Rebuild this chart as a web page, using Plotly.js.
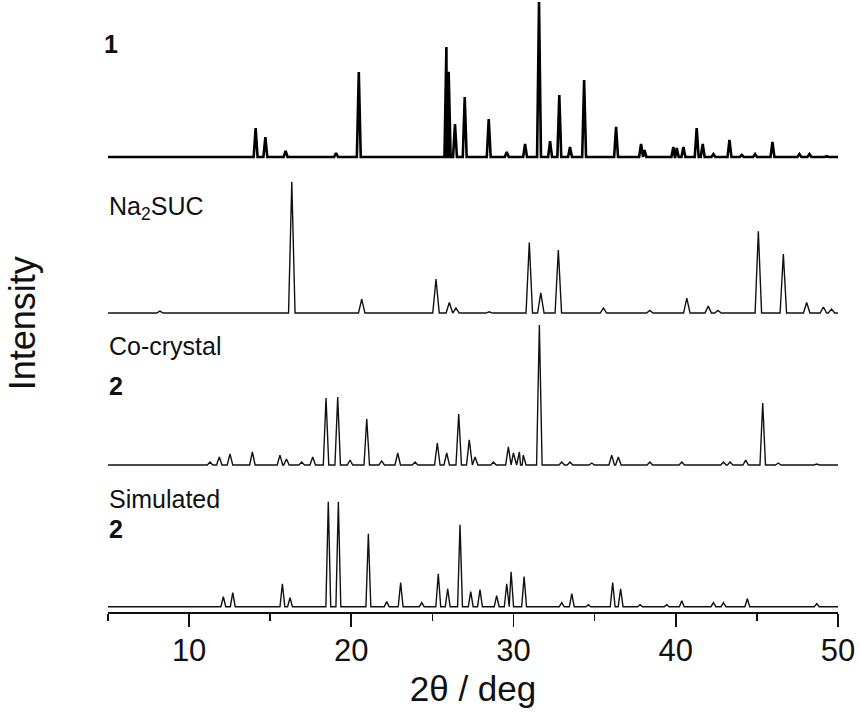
<!DOCTYPE html>
<html>
<head>
<meta charset="utf-8">
<script src="https://cdn.plot.ly/plotly-3.0.1.min.js"></script>
<style>html,body{margin:0;padding:0;background:#fff;}#chart{width:860px;height:717px;}</style>
</head>
<body>
<div id="chart"></div>
<script>
// ---- Data: peak positions (2θ, deg) and relative intensities (% of strongest peak) ----
const seriesNames = ["1", "Na2SUC", "Co-crystal 2", "Simulated 2"];

const pos1 = [14.1, 14.7, 15.95, 19.06, 20.46, 25.86, 26.0, 26.39, 26.99, 28.47, 29.58, 30.71, 31.57, 32.25, 32.82, 33.48, 34.35, 36.32, 37.86, 38.07, 39.85, 40.06, 40.47, 41.29, 41.66, 42.32, 43.31, 44.07, 44.89, 45.96, 47.62, 48.24, 49.3];
const int1 = [18.7, 12.9, 3.9, 2.6, 54.8, 71, 55, 21.3, 38.7, 24.5, 3.2, 8.4, 100, 10.3, 40, 6.5, 49.7, 19.4, 8.4, 4.5, 6.5, 5.8, 6.5, 18.7, 8.4, 1.9, 11, 1.3, 1.9, 9.7, 1.9, 1.9, 0.6];

const pos2 = [8.2, 16.33, 20.64, 25.22, 26.04, 26.45, 28.5, 30.97, 31.68, 32.76, 35.54, 38.4, 40.68, 42.0, 42.6, 45.09, 46.63, 48.07, 49.1, 49.6];
const int2 = [1.5, 100, 10.6, 25.9, 8, 3.8, 1, 53.8, 15.3, 48, 3.8, 2, 11.4, 5.3, 2, 62.2, 45, 8, 4.6, 3];

const pos3 = [11.29, 11.86, 12.52, 13.9, 15.6, 16.0, 16.94, 17.62, 18.44, 19.16, 19.92, 20.95, 21.87, 22.86, 23.93, 25.3, 25.88, 26.62, 27.27, 27.63, 28.76, 29.68, 29.99, 30.36, 30.6, 31.59, 32.97, 33.48, 34.82, 36.05, 36.46, 38.4, 40.37, 42.94, 43.35, 44.31, 45.36, 46.32, 48.69];
const int3 = [2.1, 5.7, 7.9, 9.3, 7.1, 4.3, 2.1, 5.7, 47.9, 48.6, 3.6, 32.9, 2.9, 8.6, 2.1, 15.7, 8.6, 36.4, 17.9, 5.7, 2.1, 12.9, 8.6, 9.3, 7.1, 100, 2.1, 2.1, 1.4, 7.1, 5.7, 2.1, 2.1, 2.1, 2.1, 3.6, 44.3, 1.4, 0.7];

const pos4 = [12.11, 12.69, 15.75, 16.22, 18.58, 19.2, 21.05, 22.18, 23.04, 24.34, 25.36, 25.94, 26.7, 27.36, 27.93, 28.96, 29.58, 29.85, 30.65, 32.97, 33.59, 34.61, 36.11, 36.6, 37.8, 39.44, 40.37, 42.32, 42.94, 44.41, 48.69];
const int4 = [9.5, 13.3, 21.9, 8.6, 100, 100, 69.5, 4.8, 22.9, 3.8, 31.4, 17.1, 78.1, 14.3, 16.2, 10.5, 21.9, 33.3, 28.6, 3.8, 12.4, 1.9, 22.9, 17.1, 1.9, 1.9, 5.7, 3.8, 3.8, 7.6, 2.9];

const xTicks = [10, 20, 30, 40, 50];

// ---- Build line profiles (stick peaks on a flat baseline) ----
function profile(pos, inten, hw) {
  const pts = [[5, 0], [50, 0]];
  pos.forEach((p, i) => { pts.push([p - hw, 0], [p, inten[i]], [p + hw, 0]); });
  pts.sort((a, b) => a[0] - b[0]);
  return { x: pts.map(d => d[0]), y: pts.map(d => d[1]) };
}

const p1 = profile(pos1, int1, 0.12);
const p2 = profile(pos2, int2, 0.2);
const p3 = profile(pos3, int3, 0.17);
const p4 = profile(pos4, int4, 0.15);

const data = [
  { x: p1.x, y: p1.y, yaxis: 'y', type: 'scatter', mode: 'lines', name: seriesNames[0], line: { color: '#000', width: 2.6 } },
  { x: p2.x, y: p2.y, yaxis: 'y2', type: 'scatter', mode: 'lines', name: seriesNames[1], line: { color: '#111', width: 1.4 } },
  { x: p3.x, y: p3.y, yaxis: 'y3', type: 'scatter', mode: 'lines', name: seriesNames[2], line: { color: '#111', width: 1.4 } },
  { x: p4.x, y: p4.y, yaxis: 'y4', type: 'scatter', mode: 'lines', name: seriesNames[3], line: { color: '#111', width: 1.4 } }
];

const hiddenY = { visible: false, showgrid: false, zeroline: false, fixedrange: true };
const fam = '"Liberation Sans", Arial, sans-serif';
const labelFont = { family: fam, size: 25, color: '#111' };

const layout = {
  width: 860, height: 717,
  margin: { l: 108, r: 22, t: 0, b: 104 },
  paper_bgcolor: '#fff', plot_bgcolor: '#fff',
  showlegend: false,
  xaxis: {
    range: [5, 50], anchor: 'free', position: 0,
    tickvals: xTicks, ticktext: xTicks.map(String),
    ticks: 'outside', ticklen: 13, tickwidth: 1.8, tickcolor: '#111',
    ticklabelstandoff: -3,
    minor: { dtick: 5, tick0: 5, ticks: 'outside', ticklen: 7, tickwidth: 1.5, tickcolor: '#111' },
    showline: true, linecolor: '#111', linewidth: 2,
    showgrid: false, zeroline: false,
    tickfont: { family: fam, size: 31, color: '#111' },
    title: { text: '2θ / deg', font: { family: fam, size: 35, color: '#111' }, standoff: 8 }
  },
  yaxis: Object.assign({ domain: [0.7287, 0.9993], range: [-6, 101] }, hiddenY),
  yaxis2: Object.assign({ domain: [0.4786, 0.7078], range: [-5, 102] }, hiddenY),
  yaxis3: Object.assign({ domain: [0.2300, 0.4744], range: [-5, 102] }, hiddenY),
  yaxis4: Object.assign({ domain: [0.0017, 0.1850], range: [-5, 102] }, hiddenY),
  annotations: [
    { text: 'Intensity', xref: 'paper', yref: 'paper', x: -0.117, y: 0.472, xanchor: 'center', yanchor: 'middle', textangle: -90, showarrow: false,
      font: { family: fam, size: 36, color: '#111' } },
    { text: '<b>1</b>', xref: 'paper', yref: 'paper', x: -0.008, y: 0.9282, xanchor: 'left', yanchor: 'middle', showarrow: false, font: labelFont },
    { text: 'Na<sub>2</sub>SUC', xref: 'paper', yref: 'paper', x: -0.002, y: 0.660, xanchor: 'left', yanchor: 'middle', showarrow: false, font: labelFont },
    { text: 'Co-crystal', xref: 'paper', yref: 'paper', x: -0.002, y: 0.4356, xanchor: 'left', yanchor: 'middle', showarrow: false, font: labelFont },
    { text: '<b>2</b>', xref: 'paper', yref: 'paper', x: -0.002, y: 0.3703, xanchor: 'left', yanchor: 'middle', showarrow: false, font: labelFont },
    { text: 'Simulated', xref: 'paper', yref: 'paper', x: -0.002, y: 0.186, xanchor: 'left', yanchor: 'middle', showarrow: false, font: labelFont },
    { text: '<b>2</b>', xref: 'paper', yref: 'paper', x: -0.002, y: 0.137, xanchor: 'left', yanchor: 'middle', showarrow: false, font: labelFont }
  ]
};

Plotly.newPlot('chart', data, layout, { displayModeBar: false, staticPlot: true });
</script>
</body>
</html>
